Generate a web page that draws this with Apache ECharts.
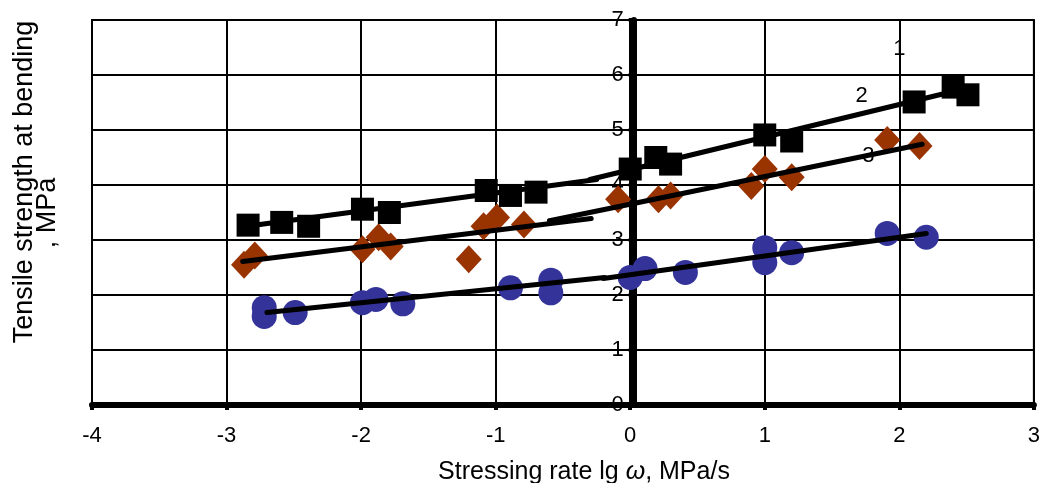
<!DOCTYPE html>
<html>
<head>
<meta charset="utf-8">
<script src="https://cdn.jsdelivr.net/npm/echarts@6/dist/echarts.min.js"></script>
<style>
  html, body { margin: 0; padding: 0; background: #fff; }
  #chart { width: 1043px; height: 483px; }
</style>
</head>
<body>
<div id="chart"></div>
<script>
// measured points (x = lg of stressing rate, y = strength, MPa)
const squaresX = [-2.84, -2.59, -2.39, -1.99, -1.79, -1.07, -0.89, -0.70, 0.0, 0.19, 0.30, 1.0, 1.2, 2.11, 2.40, 2.51];
const squaresY = [3.27, 3.32, 3.25, 3.56, 3.50, 3.90, 3.81, 3.87, 4.29, 4.50, 4.38, 4.91, 4.80, 5.51, 5.78, 5.64];

const diamondsX = [-2.87, -2.79, -1.99, -1.87, -1.78, -1.20, -1.09, -0.99, -0.79, -0.09, 0.21, 0.30, 0.90, 1.0, 1.2, 1.91, 2.15];
const diamondsY = [2.55, 2.72, 2.83, 3.05, 2.88, 2.65, 3.25, 3.41, 3.28, 3.74, 3.74, 3.81, 3.98, 4.29, 4.14, 4.82, 4.71];

const circlesX = [-2.72, -2.72, -2.49, -1.99, -1.89, -1.69, -0.89, -0.59, -0.59, 0.0, 0.11, 0.41, 1.0, 1.0, 1.2, 1.91, 2.2];
const circlesY = [1.77, 1.61, 1.68, 1.86, 1.92, 1.84, 2.13, 2.27, 2.04, 2.32, 2.48, 2.41, 2.86, 2.59, 2.77, 3.12, 3.05];

// fitted lines, each drawn as two pieces
const trend1A = [[-2.85, 3.25], [-0.25, 4.10]];
const trend1B = [[-0.30, 4.10], [2.33, 5.66]];
const trend2A = [[-2.88, 2.61], [-0.29, 3.39]];
const trend2B = [[-0.60, 3.35], [2.17, 4.74]];
const trend3A = [[-2.70, 1.68], [-0.19, 2.32]];
const trend3B = [[-0.20, 2.30], [2.20, 3.12]];

// curve numbers
const curveLabels = ['1', '2', '3'];
const curveLabelPos = [[2.0, 6.48], [1.72, 5.62], [1.77, 4.53]];

const xTicks = [-4, -3, -2, -1, 0, 1, 2, 3];
const yTicks = [0, 1, 2, 3, 4, 5, 6, 7];

const FONT = 'Liberation Sans, Arial, sans-serif';
const zip = (xs, ys) => xs.map((x, i) => [x, ys[i]]);

const W = 1043, GL = 92, GR = 3;
// shift the value axis from the left edge to x = 0
const yAxisShift = (W - GL - GR) * (0 - xTicks[0]) / (xTicks[xTicks.length - 1] - xTicks[0]);

const chart = echarts.init(document.getElementById('chart'));

const lineSeries = (data) => ({
  type: 'line',
  data: data,
  symbol: 'none',
  lineStyle: { color: '#000', width: 5, cap: 'round' },
  z: 4,
  silent: true
});

chart.setOption({
  animation: false,
  backgroundColor: '#fff',
  grid: {
    left: GL, top: 20, right: GR, bottom: 78,
    show: true, borderColor: '#000', borderWidth: 2
  },
  xAxis: {
    type: 'value',
    min: xTicks[0], max: xTicks[xTicks.length - 1], interval: 1,
    axisLine: { onZero: false, lineStyle: { color: '#000', width: 6 } },
    axisTick: { show: true, length: 5, lineStyle: { color: '#000', width: 4 } },
    axisLabel: { color: '#000', fontFamily: FONT, fontSize: 22, margin: 20 },
    splitLine: { show: true, lineStyle: { color: '#000', width: 2 } }
  },
  yAxis: {
    type: 'value',
    position: 'left',
    offset: -yAxisShift,
    min: yTicks[0], max: yTicks[yTicks.length - 1], interval: 1,
    axisLine: { onZero: false, lineStyle: { color: '#000', width: 6 } },
    axisTick: { show: true, length: 5, lineStyle: { color: '#000', width: 4 } },
    axisLabel: { color: '#000', fontFamily: FONT, fontSize: 22, margin: 10 },
    splitLine: { show: true, lineStyle: { color: '#000', width: 2 } }
  },
  graphic: [
    {
      type: 'text',
      x: 25, y: 182,
      rotation: Math.PI / 2,
      style: {
        text: 'Tensile strength at bending',
        fontFamily: FONT, fontSize: 27,
        fill: '#000', align: 'center', verticalAlign: 'middle'
      }
    },
    {
      type: 'text',
      x: 48, y: 213,
      rotation: Math.PI / 2,
      style: {
        text: ', MPa',
        fontFamily: FONT, fontSize: 27,
        fill: '#000', align: 'center', verticalAlign: 'middle'
      }
    },
    {
      type: 'text',
      x: 584, y: 472,
      style: {
        text: 'Stressing rate lg {i|ω}, MPa/s',
        fontFamily: FONT, fontSize: 25,
        fill: '#000', align: 'center', verticalAlign: 'middle',
        rich: { i: { fontStyle: 'italic', fontFamily: FONT, fontSize: 25, fill: '#000' } }
      }
    }
  ],
  series: [
    {
      type: 'scatter',
      data: curveLabels.map((t, i) => ({ value: curveLabelPos[i], name: t })),
      symbolSize: 0,
      z: 2,
      itemStyle: { opacity: 1 },
      label: {
        show: true, position: 'inside',
        formatter: (p) => p.name,
        color: '#000', fontFamily: FONT, fontSize: 22
      }
    },
    {
      type: 'scatter',
      data: zip(diamondsX, diamondsY),
      symbol: 'diamond',
      symbolSize: [26, 28],
      itemStyle: { color: '#993300', opacity: 1 },
      z: 3
    },
    {
      type: 'scatter',
      data: zip(circlesX, circlesY),
      symbol: 'circle',
      symbolSize: 25,
      itemStyle: { color: '#333399', opacity: 1 },
      z: 3
    },
    lineSeries(trend1A),
    lineSeries(trend1B),
    lineSeries(trend2A),
    lineSeries(trend2B),
    lineSeries(trend3A),
    lineSeries(trend3B),
    {
      type: 'scatter',
      data: zip(squaresX, squaresY),
      symbol: 'rect',
      symbolSize: 23,
      itemStyle: { color: '#000', opacity: 1 },
      z: 5
    }
  ]
});

window.addEventListener('resize', () => {
  chart.resize();
});
</script>
</body>
</html>
